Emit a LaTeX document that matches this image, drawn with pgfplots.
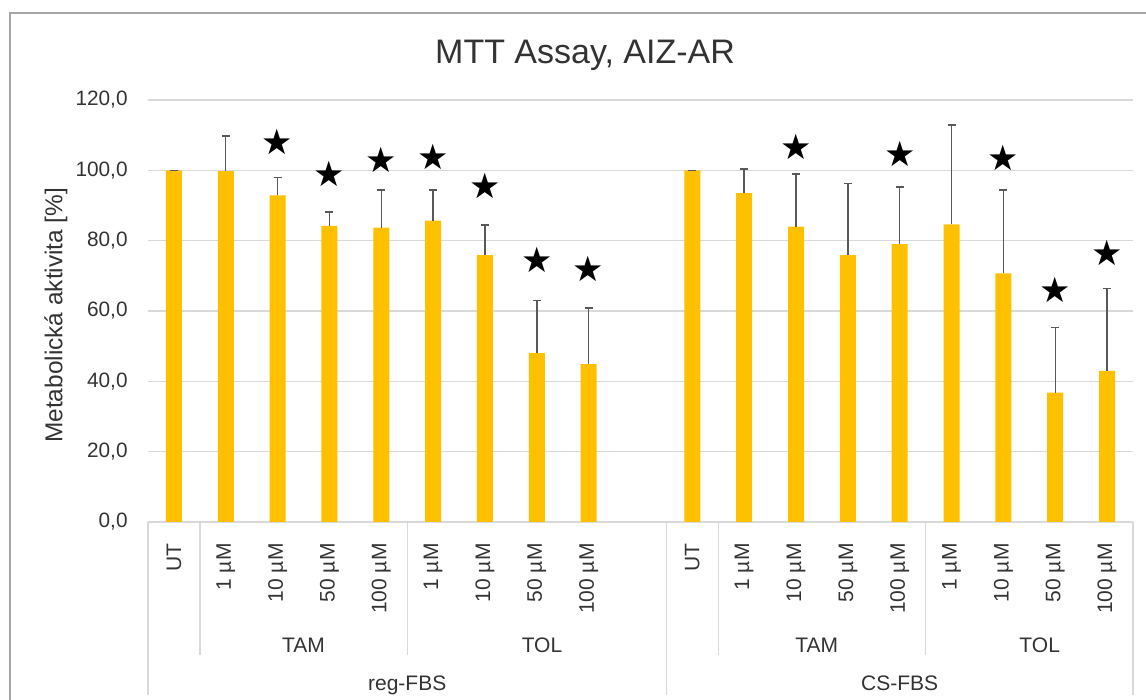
\documentclass[border=0pt]{standalone}
\usepackage{fontspec}
\setmainfont{Liberation Sans}
\newfontfamily\symfont{DejaVu Sans}
\usepackage{pgfplots}
\usepackage{pgfplotstable}
\pgfplotsset{compat=1.18}

\definecolor{barc}{HTML}{FFC000}
\definecolor{gridc}{HTML}{D9D9D9}
\definecolor{errc}{HTML}{595959}
\definecolor{framec}{HTML}{A6A6A6}
\definecolor{txt}{HTML}{333333}

% bar means and upper error (plus only)
\pgfplotstableread{
x   y     err
0   100   0
1   99.8  10.0
2   92.9  5.0
3   84.2  3.9
4   83.7  10.7
5   85.7  8.7
6   75.9  8.5
7   48.0  14.9
8   44.9  15.9
10  100   0
11  93.5  6.9
12  84.0  14.9
13  75.9  20.4
14  79.0  16.3
15  84.6  28.3
16  70.7  23.7
17  36.8  18.5
18  43.0  23.4
}\bars

% significance stars
\pgfplotstableread{
x   y
2   108.1
3   99.1
4   103.1
5   103.9
6   95.5
7   74.5
8   72.1
12  106.7
14  104.8
16  103.4
17  66.0
18  76.4
}\stars

\begin{document}
\begin{tikzpicture}
\useasboundingbox (0,0) rectangle (573pt,350pt);
\draw[framec, line width=1pt] (5pt,-20pt) rectangle (600pt,343.5pt);
\begin{axis}[
  at={(74pt,89pt)}, anchor=south west,
  scale only axis, width=492.5pt, height=211pt,
  xmin=-0.5, xmax=18.5, ymin=0, ymax=120,
  ytick={0,20,...,120},
  xtick={0,1,2,3,4,5,6,7,8,10,11,12,13,14,15,16,17,18},
  xticklabels={UT,1 µM,10 µM,50 µM,100 µM,1 µM,10 µM,50 µM,100 µM,
               UT,1 µM,10 µM,50 µM,100 µM,1 µM,10 µM,50 µM,100 µM},
  axis line style={draw=none},
  tick style={draw=none},
  ymajorgrids, grid style={gridc, line width=0.7pt},
  yticklabel style={font=\fontsize{10.4}{12}\selectfont, text=txt,
    anchor=east, inner sep=0pt, xshift=-10pt},
  xticklabel style={font=\fontsize{10.5}{12}\selectfont, text=txt,
    rotate=90, anchor=east, inner sep=0pt},
  xticklabel shift=10.5pt,
  /pgf/number format/.cd, fixed, fixed zerofill, precision=1, use comma,
    assume math mode=true, /pgfplots/.cd,
  title={MTT Assay, AIZ-AR},
  title style={font=\fontsize{17}{19}\selectfont, text=txt,
    at={(axis description cs:0.4437,1.0586)}, anchor=base},
  ylabel={Metabolická aktivita [\%]},
  every axis y label/.style={at={(axis description cs:-0.0934,0.49)},
    anchor=center, rotate=90, font=\fontsize{12.2}{14}\selectfont, text=txt},
  clip=false,
]
\addplot[ybar, bar width=8pt, fill=barc, draw=none,
  error bars/.cd, y dir=plus, y explicit,
  error bar style={errc, line width=0.7pt},
  error mark options={errc, rotate=90, mark size=2pt, line width=0.7pt}]
  table[x=x, y=y, y error=err] {\bars};
\addplot[only marks, mark=text,
  text mark={\symfont\fontsize{17.5}{17.5}\selectfont ★}]
  table[x=x, y=y] {\stars};

% category separators
\pgfplotsinvokeforeach{-0.5,9.5,18.5}{
  \draw[gridc, line width=0.7pt] (axis cs:#1,0) -- (axis cs:#1,-49.2);
}
\pgfplotsinvokeforeach{0.5,4.5,10.5,14.5}{
  \draw[gridc, line width=0.7pt] (axis cs:#1,0) -- (axis cs:#1,-37.8);
}
% group labels
\begin{scope}[every node/.style={font=\fontsize{10.5}{12}\selectfont, text=txt, anchor=base}]
\node at (axis cs:2.5,-37.0) {TAM};
\node at (axis cs:7.1,-37.0) {TOL};
\node at (axis cs:12.4,-37.0) {TAM};
\node at (axis cs:16.7,-37.0) {TOL};
\node at (axis cs:4.5,-47.8) {reg-FBS};
\node at (axis cs:14,-47.8) {CS-FBS};
\end{scope}
\end{axis}
\end{tikzpicture}
\end{document}
